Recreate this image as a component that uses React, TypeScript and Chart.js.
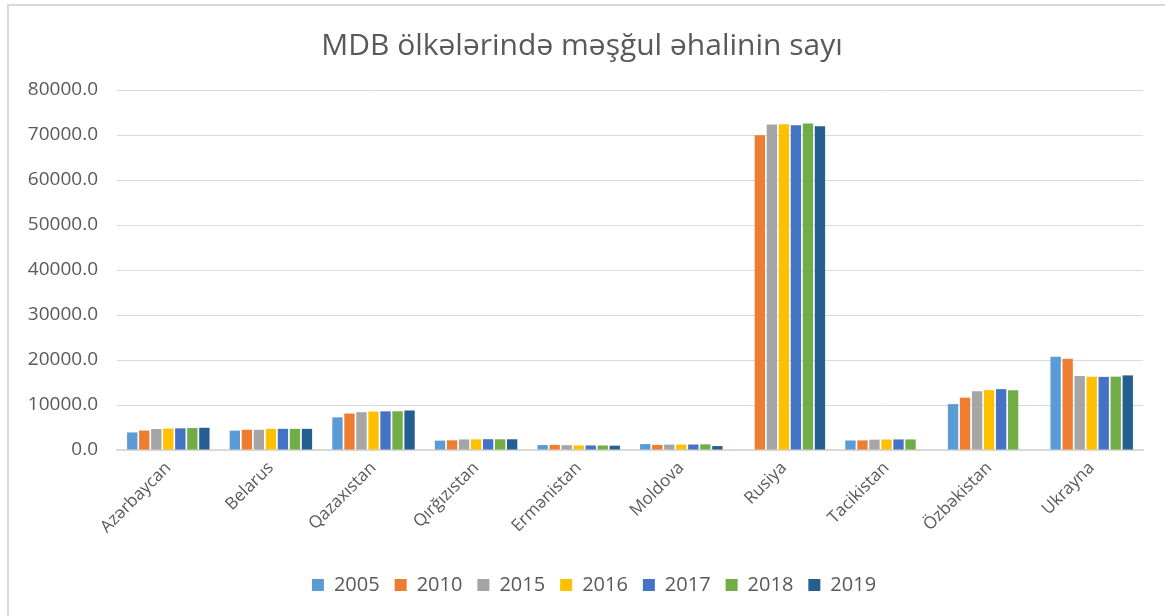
import { useEffect, useRef } from "react";
import { Chart, registerables } from "chart.js";

Chart.register(...registerables);

const countries = ["Azərbaycan", "Belarus", "Qazaxıstan", "Qırğızıstan", "Ermənistan", "Moldova", "Rusiya", "Tacikistan", "Özbəkistan", "Ukrayna"];
const years = ["2005", "2010", "2015", "2016", "2017", "2018", "2019"];

const v2005 = [3900, 4300, 7260, 2080, 1100, 1320, null, 2110, 10200, 20700];
const v2010 = [4330, 4500, 8110, 2150, 1150, 1140, 69930, 2130, 11630, 20270];
const v2015 = [4670, 4500, 8400, 2350, 1070, 1200, 72320, 2300, 13060, 16440];
const v2016 = [4760, 4700, 8550, 2360, 1010, 1220, 72390, 2330, 13300, 16280];
const v2017 = [4820, 4700, 8590, 2400, 1010, 1220, 72140, 2350, 13520, 16250];
const v2018 = [4880, 4700, 8600, 2380, 1000, 1250, 72530, 2350, 13270, 16300];
const v2019 = [4940, 4700, 8780, 2380, 960, 870, 71930, null, null, 16580];

const seriesValues = [v2005, v2010, v2015, v2016, v2017, v2018, v2019];
const seriesColors = ["#5B9BD5", "#ED7D31", "#A5A5A5", "#FFC000", "#4472C4", "#70AD47", "#255E91"];

const yTicks = [0, 10000, 20000, 30000, 40000, 50000, 60000, 70000, 80000];

const FONT = "'Open Sans', sans-serif";
const TEXT = "#595959";

const shiftBoxes = {
  id: "shiftBoxes",
  afterLayout(chart: any) {
    const lg = chart.legend;
    if (lg) {
      lg.left += 18;
      lg.right += 18;
    }
    const tb = chart.titleBlock;
    if (tb) {
      tb.left += 6;
      tb.right += 6;
    }
  },
};

export default function App() {
  const ref = useRef<HTMLCanvasElement>(null);

  useEffect(() => {
    const chart = new Chart(ref.current!, {
      type: "bar",
      data: {
        labels: countries,
        datasets: years.map((y, i) => ({
          label: y,
          data: seriesValues[i],
          backgroundColor: seriesColors[i],
          borderWidth: 0,
          categoryPercentage: 0.82,
          barPercentage: 0.86,
        })),
      },
      plugins: [shiftBoxes],
      options: {
        animation: false,
        responsive: false,
        devicePixelRatio: 1,
        layout: { padding: { left: 0, right: 22, top: 0, bottom: 11 } },
        plugins: {
          title: {
            display: true,
            text: "MDB ölkələrində məşğul əhalinin sayı",
            color: TEXT,
            font: { family: FONT, size: 30, weight: "normal" },
            padding: { top: 22, bottom: 26 },
          },
          legend: {
            position: "bottom",
            labels: {
              color: TEXT,
              font: { family: FONT, size: 20 },
              boxWidth: 12,
              boxHeight: 12,
              padding: 15,
            },
          },
          tooltip: { enabled: false },
        },
        scales: {
          x: {
            afterFit: (scale: any) => {
              scale.height = 110;
            },
            grid: { display: false, drawTicks: false },
            border: { display: true, color: "#d9d9d9", width: 2 },
            ticks: {
              color: TEXT,
              font: { family: FONT, size: 17 },
              minRotation: 45,
              maxRotation: 45,
              padding: 8,
            },
          },
          y: {
            min: 0,
            max: 80000,
            afterBuildTicks: (scale: any) => {
              scale.ticks = yTicks.map((v) => ({ value: v }));
            },
            afterFit: (scale: any) => {
              scale.width = 108;
            },
            grid: { color: "#d9d9d9", lineWidth: 1, drawTicks: false },
            border: { display: false },
            ticks: {
              color: TEXT,
              font: { family: FONT, size: 19 },
              padding: 19,
              callback: (v: any) => Number(v).toFixed(1),
            },
          },
        },
      },
    } as any);
    return () => chart.destroy();
  }, []);

  return (
    <div style={{ position: "fixed", left: 0, top: 0, width: 1165, height: 616, overflow: "hidden", background: "#fff" }}>
      <div
        style={{
          position: "absolute",
          left: 7,
          top: 4,
          width: 1170,
          height: 640,
          border: "2px solid #d9d9d9",
          background: "#fff",
        }}
      >
        <canvas ref={ref} width={1156} height={610} style={{ display: "block" }} />
      </div>
    </div>
  );
}
